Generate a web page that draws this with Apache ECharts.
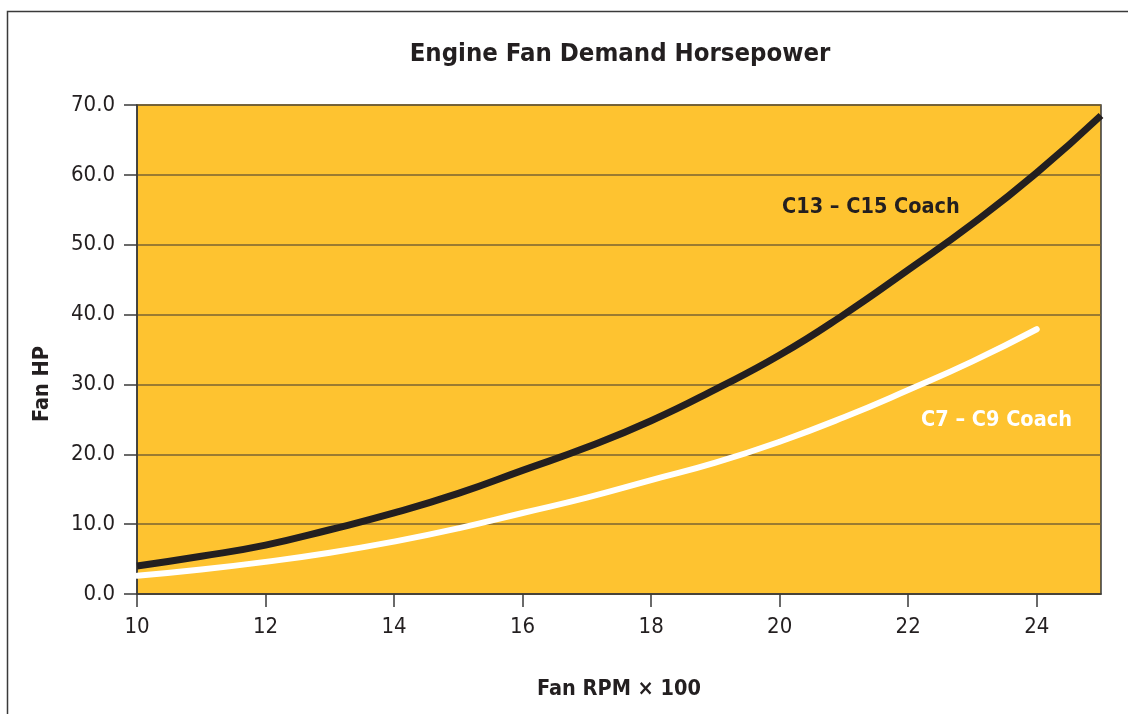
<!DOCTYPE html>
<html>
<head>
<meta charset="utf-8">
<script src="https://cdn.jsdelivr.net/npm/echarts@6/dist/echarts.min.js"></script>
<style>
  html, body { margin: 0; padding: 0; background: #fff; }
  #main { width: 1128px; height: 714px; }
</style>
</head>
<body>
<div id="main"></div>
<script>
var FONT = "'Liberation Sans Narrow', 'DejaVu Sans Condensed', 'Roboto', sans-serif";

// fan speed (x100 rpm) and horsepower
var rpmBig = [10, 11, 12, 13, 14, 15, 16, 17, 18, 19, 20, 21, 22, 23, 24, 25];
var hpBig = [4.0, 5.4, 7.0, 9.2, 11.6, 14.4, 17.7, 21.0, 24.8, 29.3, 34.2, 40.0, 46.4, 53.0, 60.3, 68.5];
var rpmSmall = [10, 11, 12, 13, 14, 15, 16, 17, 18, 19, 20, 21, 22, 23, 24];
var hpSmall = [2.6, 3.5, 4.6, 5.9, 7.5, 9.4, 11.6, 13.8, 16.3, 18.8, 21.8, 25.3, 29.2, 33.3, 37.9];
var xTicks = [10, 12, 14, 16, 18, 20, 22, 24];

function pairs(xs, ys) {
  var out = [];
  for (var i = 0; i < xs.length; i++) out.push([xs[i], ys[i]]);
  return out;
}

var chart = echarts.init(document.getElementById('main'));

var option = {
  backgroundColor: '#fff',
  animation: false,
  grid: {
    left: 137,
    right: 27,
    top: 105,
    bottom: 120,
    show: true,
    backgroundColor: '#fec330',
    borderColor: '#3a3a3a',
    borderWidth: 1.5
  },
  xAxis: {
    type: 'value',
    min: 10,
    max: 25,
    interval: 2,
    name: 'Fan RPM \u00d7 100',
    nameLocation: 'middle',
    nameGap: 84,
    nameTextStyle: { fontFamily: FONT, fontSize: 21.5, fontWeight: 'bold', color: '#231f20' },
    axisLine: { lineStyle: { color: '#3a3a3a', width: 1.5 } },
    axisTick: { length: 13, customValues: xTicks, lineStyle: { color: '#3a3a3a', width: 1.5 } },
    axisLabel: { customValues: xTicks, margin: 22, fontFamily: FONT, fontSize: 22, color: '#231f20' },
    splitLine: { show: false }
  },
  yAxis: {
    type: 'value',
    min: 0,
    max: 70,
    interval: 10,
    axisLine: { show: true, lineStyle: { color: '#3a3a3a', width: 1.5 } },
    axisTick: { show: true, length: 13, lineStyle: { color: '#3a3a3a', width: 1.5 } },
    axisLabel: {
      margin: 22,
      fontFamily: FONT,
      fontSize: 22,
      color: '#231f20',
      formatter: function (v) { return v.toFixed(1); }
    },
    splitLine: { lineStyle: { color: '#7a6330', width: 1.5 } }
  },
  series: [
    {
      name: 'C13 - C15 Coach',
      type: 'line',
      smooth: true,
      showSymbol: false,
      data: pairs(rpmBig, hpBig),
      lineStyle: { color: '#231f20', width: 7 },
      z: 3
    },
    {
      name: 'C7 - C9 Coach',
      type: 'line',
      smooth: true,
      showSymbol: false,
      data: pairs(rpmSmall, hpSmall),
      lineStyle: { color: '#ffffff', width: 6, cap: 'round' },
      z: 2
    }
  ],
  graphic: [
    {
      type: 'rect',
      shape: { x: 7.5, y: 11.5, width: 1200, height: 800 },
      style: { fill: 'none', stroke: '#3a3a3a', lineWidth: 1.5 },
      silent: true,
      z: 100
    },
    {
      type: 'text',
      x: 620,
      y: 54,
      style: {
        text: 'Engine Fan Demand Horsepower',
        fontFamily: FONT,
        fontSize: 25.5,
        fontWeight: 'bold',
        fill: '#231f20',
        align: 'center',
        verticalAlign: 'middle'
      }
    },
    {
      type: 'text',
      x: 42,
      y: 384,
      rotation: Math.PI / 2,
      style: {
        text: 'Fan HP',
        fontFamily: FONT,
        fontSize: 21.5,
        fontWeight: 'bold',
        fill: '#231f20',
        align: 'center',
        verticalAlign: 'middle'
      }
    },
    {
      type: 'text',
      x: 782,
      y: 207,
      style: {
        text: 'C13 \u2013 C15 Coach',
        fontFamily: FONT,
        fontSize: 21.5,
        fontWeight: 'bold',
        fill: '#231f20',
        verticalAlign: 'middle'
      },
      z: 50
    },
    {
      type: 'text',
      x: 921,
      y: 420,
      style: {
        text: 'C7 \u2013 C9 Coach',
        fontFamily: FONT,
        fontSize: 21.5,
        fontWeight: 'bold',
        fill: '#ffffff',
        verticalAlign: 'middle'
      },
      z: 50
    }
  ]
};

chart.setOption(option);
</script>
</body>
</html>
